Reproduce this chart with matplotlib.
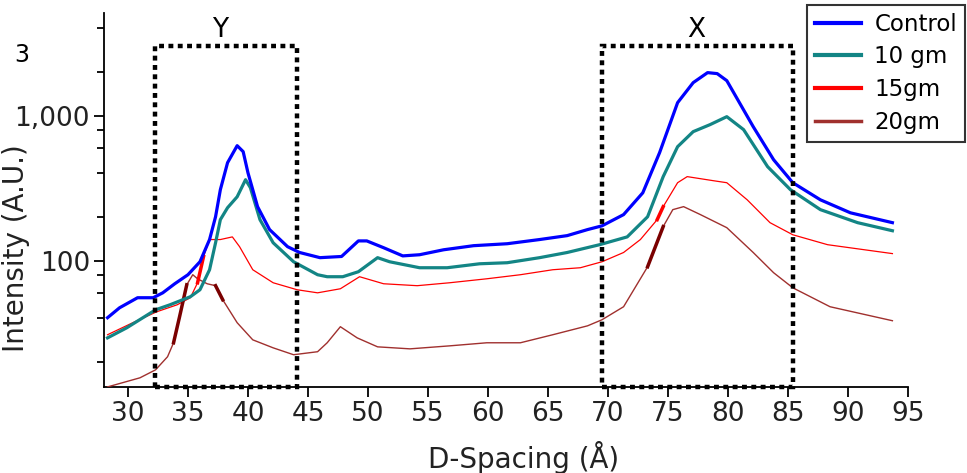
import numpy as np
import matplotlib
matplotlib.use("Agg")
import matplotlib.pyplot as plt
from matplotlib.patches import Rectangle
from matplotlib.ticker import LogLocator, FuncFormatter, NullFormatter

# D-spacing (A) and intensity (A.U.)
ctrl_x = [28.3, 29.3, 30.8, 32.1, 32.9, 33.9, 35.0, 36.0, 36.8, 37.3, 37.7, 38.3, 39.1,
          39.6, 40.0, 40.8, 41.8, 43.3, 44.3, 46.0, 47.8, 49.2, 49.9, 51.3, 52.9, 54.3,
          56.3, 58.8, 61.6, 64.3, 66.6, 68.3, 69.5, 71.3, 72.9, 74.3, 75.8, 77.1, 78.3,
          79.1, 79.9, 82.1, 83.8, 85.4, 87.7, 90.2, 93.7]
ctrl_y = [40.5, 47.4, 55.6, 55.6, 60.1, 69.4, 80.1, 98.4, 140, 201, 309, 474, 621,
          565, 404, 236, 164, 125, 114, 105, 107, 137, 137, 123, 108, 110,
          119, 127, 131, 140, 149, 164, 174, 208, 294, 556, 1229, 1689, 1980,
          1949, 1743, 840, 497, 345, 263, 214, 183]

gm10_x = [28.3, 29.9, 32.3, 33.5, 35.2, 36.0, 36.8, 37.3, 37.7, 38.3, 39.1, 39.8, 40.2,
          41.0, 42.1, 43.8, 45.8, 46.6, 47.9, 49.2, 50.8, 51.8, 54.3, 56.6, 59.3, 61.6,
          64.3, 66.6, 69.3, 71.6, 73.3, 74.6, 75.8, 77.1, 78.5, 79.9, 81.3, 83.3, 85.2,
          87.7, 90.8, 93.7]
gm10_y = [29.4, 34.5, 45.9, 49.7, 56.5, 63.1, 86.7, 133, 192, 232, 276, 362, 319,
          192, 133, 98.4, 80.1, 77.6, 77.6, 84.0, 105, 98.4, 89.5, 89.5, 95.3, 96.9,
          105, 114, 129, 146, 201, 380, 611, 776, 867, 984, 801, 445, 309,
          225, 183, 161]

gm15_x = [28.3, 30.4, 32.4, 34.1, 35.2, 35.8, 36.3, 36.8, 37.7, 38.7, 39.3, 40.4, 42.1,
          44.1, 45.8, 47.7, 49.3, 51.3, 54.1, 56.8, 59.9, 62.7, 65.4, 67.7, 69.5, 71.3,
          72.7, 74.1, 74.6, 75.8, 76.6, 78.8, 79.9, 81.6, 83.5, 85.4, 88.3, 93.7]
gm15_y = [30.9, 37.4, 44.5, 49.7, 55.6, 70.5, 107, 140, 140, 146, 125, 86.7, 70.5,
          63.1, 60.1, 64.1, 77.6, 69.4, 67.3, 70.5, 75.1, 80.1, 86.7, 89.5, 98.4, 114,
          140, 192, 236, 345, 380, 356, 345, 263, 183, 151, 129, 112]

gm20_x = [28.3, 31.0, 32.3, 33.3, 33.8, 34.3, 34.9, 35.4, 35.8, 36.6, 37.3, 37.9, 39.1,
          40.4, 42.1, 43.8, 45.8, 46.6, 47.7, 49.1, 50.8, 53.5, 56.8, 59.9, 62.7, 65.4,
          68.3, 69.5, 71.3, 73.3, 74.6, 75.4, 76.3, 77.7, 79.9, 82.1, 83.8, 85.4, 88.5,
          93.7]
gm20_y = [13.5, 15.6, 17.7, 21.8, 27.2, 41.1, 68.3, 80.1, 75.1, 69.4, 67.3, 53.8, 37.4,
          28.5, 25.1, 22.5, 23.6, 27.2, 35.1, 29.4, 25.5, 24.7, 25.9, 27.2, 27.2, 30.9,
          35.6, 39.2, 48.2, 90.9, 172, 225, 236, 208, 169, 114, 82.7, 65.1, 48.2,
          38.6]

labels = ["Control", "10 gm", "15gm", "20gm"]
x_ticks = list(range(30, 100, 5))
box_y = (32.25, 44.1)
box_x = (69.5, 85.4)
box_top = 3000
y_min, y_max = 13.5, 5100

fig = plt.figure(figsize=(9.67, 4.73), dpi=100)
ax = fig.add_axes([0.1075, 0.182, 0.8315, 0.7905])

ax.plot(ctrl_x, ctrl_y, color="#0000ff", lw=2.3, label=labels[0], zorder=5)
ax.plot(gm10_x, gm10_y, color="#138585", lw=2.3, label=labels[1], zorder=4)
ax.plot(gm15_x, gm15_y, color="#ff0000", lw=0.9, label=labels[2], zorder=3)
ax.plot(gm20_x, gm20_y, color="#a0302e", lw=1.0, label=labels[3], zorder=3)

# darker, thicker bits where the traces overlap in the original
g15x, g15y = np.array(gm15_x), np.array(gm15_y)
g20x, g20y = np.array(gm20_x), np.array(gm20_y)
for lo, hi in [(35.7, 36.4), (74.0, 74.7)]:
    m = (g15x >= lo) & (g15x <= hi)
    ax.plot(g15x[m], g15y[m], color="#ff0000", lw=2.5, zorder=3)
for lo, hi in [(33.7, 35.0), (37.2, 38.0), (73.2, 74.7)]:
    m = (g20x >= lo) & (g20x <= hi)
    ax.plot(g20x[m], g20y[m], color="#7a0000", lw=2.5, zorder=3)

ax.set_yscale("log")
ax.set_xlim(28, 95)
ax.set_ylim(y_min, y_max)

for x0, x1 in (box_y, box_x):
    ax.add_patch(Rectangle((x0, y_min), x1 - x0, box_top - y_min, fill=False,
                           edgecolor="black", lw=3.2, linestyle=(0, (1.1, 1.0)),
                           clip_on=False, zorder=6))

ax.text(np.mean(box_y) - 0.5, 0.955, "Y", transform=ax.get_xaxis_transform(),
        ha="center", va="center", fontsize=19)
ax.text(np.mean(box_x) - 0.1, 0.955, "X", transform=ax.get_xaxis_transform(),
        ha="center", va="center", fontsize=19)

ax.spines["top"].set_visible(False)
ax.spines["right"].set_visible(False)
ax.spines["left"].set_linewidth(1.3)
ax.spines["bottom"].set_linewidth(1.3)

ax.set_xticks(x_ticks)
ax.yaxis.set_major_locator(LogLocator(base=10))
ax.yaxis.set_minor_locator(LogLocator(base=10, subs=(2, 4, 6, 8)))
ax.yaxis.set_major_formatter(FuncFormatter(lambda v, p: "{:,.0f}".format(v)))
ax.yaxis.set_minor_formatter(NullFormatter())
ax.tick_params(axis="both", which="major", labelsize=19, length=7, width=1.3, pad=3,
               labelcolor="#222222")
ax.tick_params(axis="y", which="minor", length=5, width=1.3)

ax.set_xlabel("D-Spacing (Å)", fontsize=20, color="#222222")
ax.xaxis.set_label_coords(0.522, -0.145)
ax.set_ylabel("Intensity (A.U.)", fontsize=20, color="#222222")
ax.yaxis.set_label_coords(-0.092, 0.37)

fig.text(0.023, 0.884, "3", fontsize=17, ha="center", va="center")

leg = fig.legend(loc="upper right", bbox_to_anchor=(0.998, 0.99), fontsize=16.5,
                 frameon=True, fancybox=False, edgecolor="black", handlelength=2.0,
                 labelspacing=0.42, borderpad=0.35, borderaxespad=0, handletextpad=0.6)
leg.get_frame().set_linewidth(1.5)
for h, w in zip(leg.get_lines(), [3, 3, 3, 2.5]):
    h.set_linewidth(w)

fig.savefig("out.png", dpi=100)
